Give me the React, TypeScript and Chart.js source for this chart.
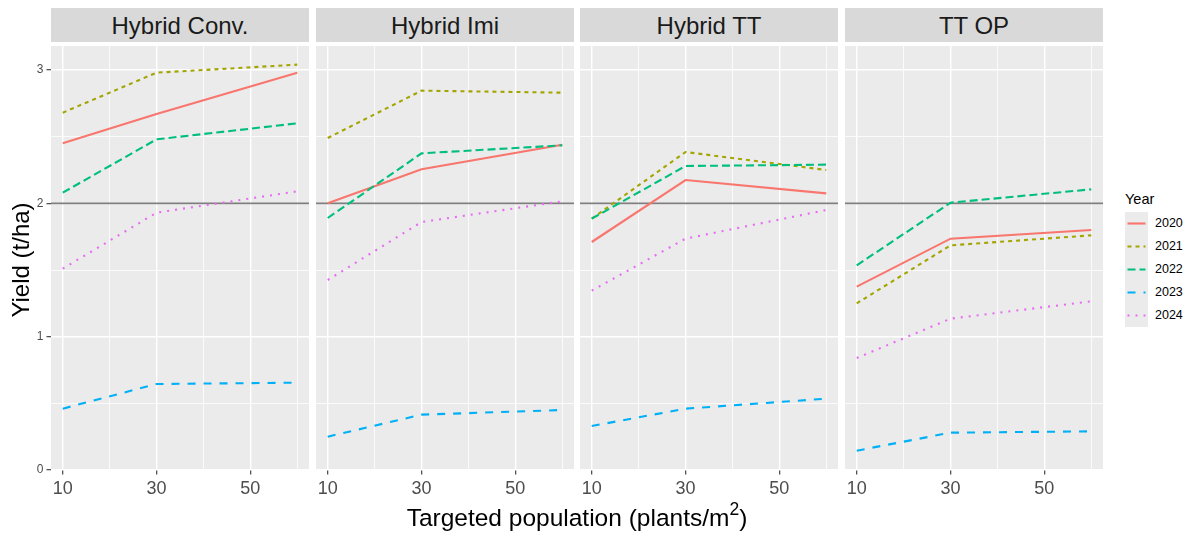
import React, { useEffect, useRef } from "react";
import { Chart, registerables } from "chart.js";

Chart.register(...registerables);

// ---------- data ----------
const PANELS = ["Hybrid Conv.", "Hybrid Imi", "Hybrid TT", "TT OP"];
const YEARS = ["2020", "2021", "2022", "2023", "2024"];
const POPULATION = [10, 30, 60];

// rows follow YEARS, columns follow POPULATION
const HYBRID_CONV = [
  [2.45, 2.67, 2.98],
  [2.68, 2.98, 3.04],
  [2.08, 2.48, 2.6],
  [0.46, 0.645, 0.655],
  [1.51, 1.93, 2.09],
];
const HYBRID_IMI = [
  [2.0, 2.255, 2.44],
  [2.49, 2.845, 2.83],
  [1.89, 2.375, 2.435],
  [0.25, 0.415, 0.45],
  [1.425, 1.86, 2.015],
];
const HYBRID_TT = [
  [1.71, 2.175, 2.075],
  [1.885, 2.385, 2.25],
  [1.885, 2.28, 2.29],
  [0.33, 0.46, 0.535],
  [1.345, 1.735, 1.95],
];
const TT_OP = [
  [1.375, 1.735, 1.8],
  [1.25, 1.685, 1.76],
  [1.535, 2.005, 2.105],
  [0.145, 0.28, 0.29],
  [0.84, 1.135, 1.265],
];
const PANEL_DATA = [HYBRID_CONV, HYBRID_IMI, HYBRID_TT, TT_OP];

const REFERENCE_YIELD = 2;
const Y_MAJOR = [0, 1, 2, 3];
const Y_MINOR = [0.5, 1.5, 2.5];
const X_MAJOR = [10, 30, 50];
const X_MINOR = [20, 40, 60];
const X_RANGE = [7.5, 62.5];
const Y_RANGE = [0, 3.18];

// ---------- style ----------
const FONT = "'Liberation Sans', Arial, Helvetica, sans-serif";
const COLORS = ["#F8766D", "#A3A500", "#00BF7D", "#00B0F6", "#E76BF3"];
const DASHES: number[][] = [[], [4, 4], [8, 4], [8, 8], [2, 6]];
const LINE_W = 2.1;

const PLOT_LEFTS = [51, 316, 580, 845];
const PLOT_W = 258;
const PLOT_TOP = 46;
const PLOT_H = 424;
const Y_AXIS_W = 51;
const X_AXIS_H = 36;

Chart.defaults.font.family = FONT;

const panelBg = {
  id: "panelBg",
  beforeDraw(chart: any) {
    const { ctx, chartArea: a } = chart;
    ctx.save();
    ctx.fillStyle = "#EBEBEB";
    ctx.fillRect(a.left, a.top, a.right - a.left, a.bottom - a.top);
    ctx.restore();
  },
};

function Panel({ index }: { index: number }) {
  const ref = useRef<HTMLCanvasElement>(null);
  const first = index === 0;
  const width = first ? PLOT_LEFTS[0] + PLOT_W : PLOT_W;
  const left = first ? 0 : PLOT_LEFTS[index];

  useEffect(() => {
    const rows = PANEL_DATA[index];
    const datasets: any[] = [
      {
        label: "reference",
        data: X_RANGE.map((x) => ({ x, y: REFERENCE_YIELD })),
        borderColor: "#7F7F7F",
        borderWidth: 1.6,
        pointRadius: 0,
        order: 10,
      },
      ...YEARS.map((yr, k) => ({
        label: yr,
        data: POPULATION.map((x, j) => ({ x, y: rows[k][j] })),
        borderColor: COLORS[k],
        borderDash: DASHES[k],
        borderWidth: LINE_W,
        borderCapStyle: "butt",
        pointRadius: 0,
        tension: 0,
        order: 5 - k,
      })),
    ];

    const isMajorX = (v: number) => X_MAJOR.includes(v);
    const isMajorY = (v: number) => Y_MAJOR.includes(v);

    const chart = new Chart(ref.current as HTMLCanvasElement, {
      type: "line",
      data: { datasets },
      options: {
        animation: false,
        responsive: false,
        devicePixelRatio: 1,
        events: [],
        layout: { padding: 0 },
        plugins: { legend: { display: false }, tooltip: { enabled: false } },
        scales: {
          x: {
            type: "linear",
            min: X_RANGE[0],
            max: X_RANGE[1],
            afterBuildTicks: (s: any) => {
              s.ticks = [...X_MAJOR, ...X_MINOR].sort((a, b) => a - b).map((v) => ({ value: v }));
            },
            afterFit: (s: any) => {
              s.height = X_AXIS_H;
              s.paddingLeft = 0;
              s.paddingRight = 0;
            },
            border: { display: false },
            grid: {
              color: "#FFFFFF",
              lineWidth: (c: any) => (isMajorX(c.tick?.value) ? 1.4 : 0.8),
              tickColor: (c: any) => (isMajorX(c.tick?.value) ? "#333333" : "rgba(0,0,0,0)"),
              tickWidth: 1.1,
              tickLength: 4.5,
            },
            ticks: {
              autoSkip: false,
              maxRotation: 0,
              minRotation: 0,
              padding: 4,
              color: "#4D4D4D",
              font: { size: 18 },
              callback: (v: any) => (isMajorX(v) ? String(v) : ""),
            },
          },
          y: {
            type: "linear",
            min: Y_RANGE[0],
            max: Y_RANGE[1],
            afterBuildTicks: (s: any) => {
              s.ticks = [...Y_MAJOR, ...Y_MINOR].sort((a, b) => a - b).map((v) => ({ value: v }));
            },
            afterFit: (s: any) => {
              s.width = first ? Y_AXIS_W : 0;
              s.paddingTop = 0;
              s.paddingBottom = 0;
            },
            border: { display: false },
            grid: {
              color: "#FFFFFF",
              lineWidth: (c: any) => (isMajorY(c.tick?.value) ? 1.4 : 0.8),
              tickColor: (c: any) => (isMajorY(c.tick?.value) ? "#333333" : "rgba(0,0,0,0)"),
              tickWidth: 1.1,
              tickLength: 4.5,
              drawTicks: first,
            },
            ticks: {
              display: first,
              autoSkip: false,
              padding: 3,
              color: "#4D4D4D",
              font: { size: 12 },
              callback: (v: any) => (isMajorY(v) ? String(v) : ""),
            },
          },
        },
      } as any,
      plugins: [panelBg],
    });
    return () => chart.destroy();
  }, [index]);

  return (
    <canvas
      ref={ref}
      width={width}
      height={PLOT_H + X_AXIS_H}
      style={{ position: "absolute", left, top: PLOT_TOP, width, height: PLOT_H + X_AXIS_H, display: "block" }}
    />
  );
}

export default function App() {
  useEffect(() => {
    document.body.style.margin = "0";
  }, []);

  return (
    <div
      style={{
        position: "relative",
        width: 1187,
        height: 533,
        background: "#FFFFFF",
        fontFamily: FONT,
        overflow: "hidden",
      }}
    >
      {PANELS.map((name, i) => (
        <div
          key={name}
          style={{
            position: "absolute",
            left: PLOT_LEFTS[i],
            top: 8,
            width: PLOT_W,
            height: 34,
            background: "#D9D9D9",
            color: "#1A1A1A",
            fontSize: 24,
            lineHeight: "36px",
            textAlign: "center",
            whiteSpace: "nowrap",
            overflow: "hidden",
          }}
        >
          {name}
        </div>
      ))}
      {PANELS.map((name, i) => (
        <Panel key={name} index={i} />
      ))}

      {/* y axis title */}
      <div
        style={{
          position: "absolute",
          left: 21 - 150,
          top: 260 - 12,
          width: 300,
          height: 24,
          lineHeight: "24px",
          fontSize: 24,
          color: "#000",
          textAlign: "center",
          transform: "rotate(-90deg)",
          transformOrigin: "50% 50%",
          whiteSpace: "nowrap",
        }}
      >
        Yield (t/ha)
      </div>

      {/* x axis title */}
      <div
        style={{
          position: "absolute",
          left: 51,
          top: 506,
          width: 1052,
          lineHeight: "24px",
          fontSize: 24.5,
          color: "#000",
          textAlign: "center",
          whiteSpace: "nowrap",
        }}
      >
        Targeted population (plants/m
        <span style={{ fontSize: 17.5, position: "relative", top: -11 }}>2</span>)
      </div>

      {/* legend */}
      <div
        style={{
          position: "absolute",
          left: 1125,
          top: 192,
          fontSize: 14.5,
          lineHeight: "14.5px",
          color: "#000",
          whiteSpace: "nowrap",
        }}
      >
        Year
      </div>
      <svg
        width={23}
        height={115}
        style={{ position: "absolute", left: 1125, top: 212, background: "#EBEBEB" }}
      >
        {YEARS.map((yr, k) => (
          <line
            key={yr}
            x1={2.5}
            x2={20.5}
            y1={11.5 + 23 * k}
            y2={11.5 + 23 * k}
            stroke={COLORS[k]}
            strokeWidth={LINE_W}
            strokeDasharray={DASHES[k].length ? DASHES[k].join(" ") : undefined}
          />
        ))}
      </svg>
      {YEARS.map((yr, k) => (
        <div
          key={yr}
          style={{
            position: "absolute",
            left: 1155,
            top: 223.5 + 23 * k - 6.5,
            fontSize: 12.5,
            lineHeight: "13px",
            color: "#000",
            whiteSpace: "nowrap",
          }}
        >
          {yr}
        </div>
      ))}
    </div>
  );
}
